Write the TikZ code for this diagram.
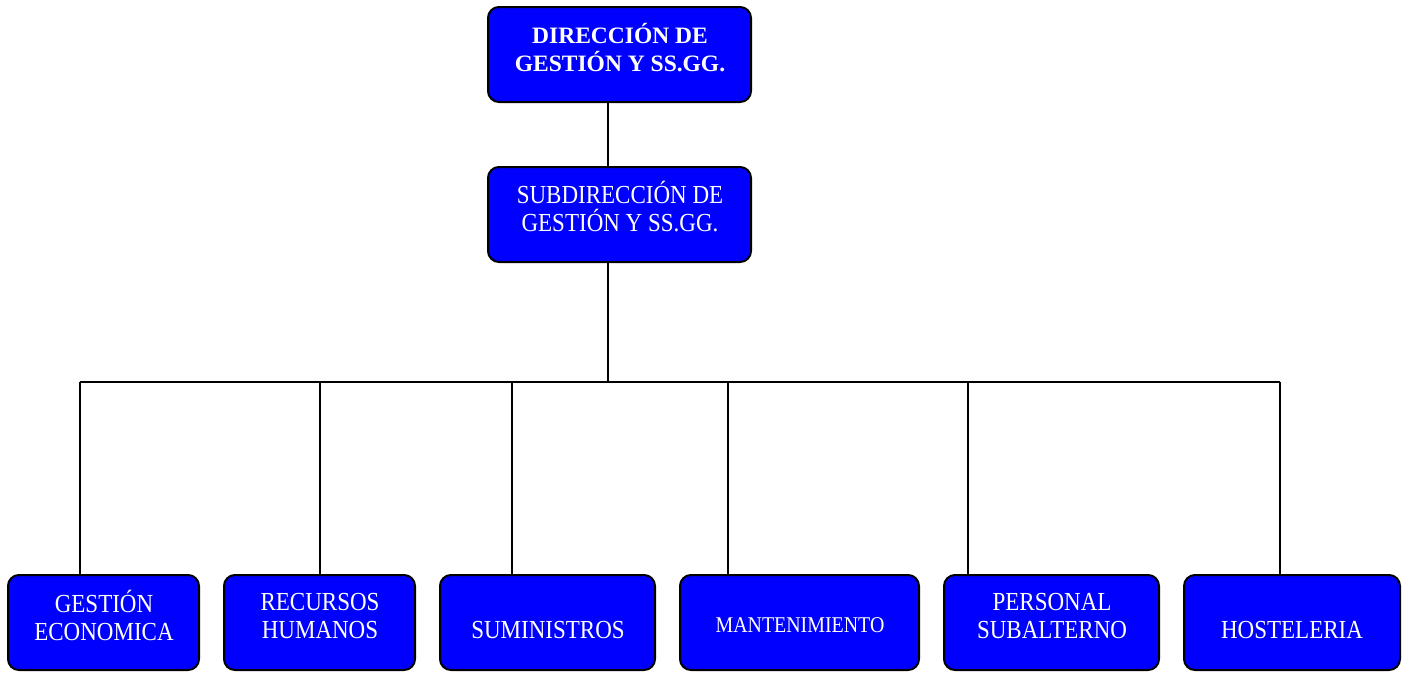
\documentclass[tikz,border=0pt]{standalone}
\usepackage{fontspec}
\setmainfont[FakeStretch=0.885]{Liberation Serif}
\newfontfamily\plainserif{Liberation Serif}
\begin{document}
\begin{tikzpicture}[x=1pt,y=-1pt,
  box/.style={draw=black,line width=2pt,fill={rgb,255:red,0;green,0;blue,255},rounded corners=11pt,inner sep=0pt},
  lbl/.style={text=white,align=center,inner sep=0pt,font=\fontsize{26}{28}\selectfont},
  conn/.style={draw=black,line width=2pt}]
\useasboundingbox (0,0) rectangle (1412,672);
% boxes
\node[box,minimum width=263pt,minimum height=95pt] (dir) at (619.5,54.5) {};
\node[box,minimum width=263pt,minimum height=95pt] (sub) at (619.5,214.5) {};
\node[box,minimum width=191pt,minimum height=95pt] (b1) at (103.5,622.5) {};
\node[box,minimum width=191pt,minimum height=95pt] (b2) at (319.5,622.5) {};
\node[box,minimum width=215pt,minimum height=95pt] (b3) at (547.5,622.5) {};
\node[box,minimum width=239pt,minimum height=95pt] (b4) at (799.5,622.5) {};
\node[box,minimum width=215pt,minimum height=95pt] (b5) at (1051.5,622.5) {};
\node[box,minimum width=216pt,minimum height=95pt] (b6) at (1292,622.5) {};
% labels
\node[lbl,font=\plainserif\fontsize{23.5}{28}\selectfont\bfseries] (tdir) at (620,48) {DIRECCIÓN DE\\GESTIÓN Y SS.GG.};
\node[lbl] (tsub) at (620,207) {SUBDIRECCIÓN DE\\GESTIÓN Y SS.GG.};
\node[lbl] (t1) at (104,615.5) {GESTIÓN\\ECONOMICA};
\node[lbl] (t2) at (320,616) {RECURSOS\\HUMANOS};
\node[lbl] (t3) at (548,630) {SUMINISTROS};
\node[lbl,font=\fontsize{22.5}{26}\selectfont] (t4) at (800,625) {MANTENIMIENTO};
\node[lbl] (t5) at (1052,616) {PERSONAL\\SUBALTERNO};
\node[lbl] (t6) at (1292,630) {HOSTELERIA};
% connectors
\coordinate (bus) at (608,382);
\draw[conn] (dir.south -| bus) -- (sub.north -| bus);
\draw[conn] (sub.south -| bus) -- (bus);
\draw[conn] (80,382) coordinate (bl) -- (1280,382) coordinate (br);
\foreach \n/\x in {b1/80,b2/320,b3/512,b4/728,b5/968,b6/1280}{
  \draw[conn] (\x,382) -- (\n.north -| \x,382);
}
\end{tikzpicture}
\end{document}
